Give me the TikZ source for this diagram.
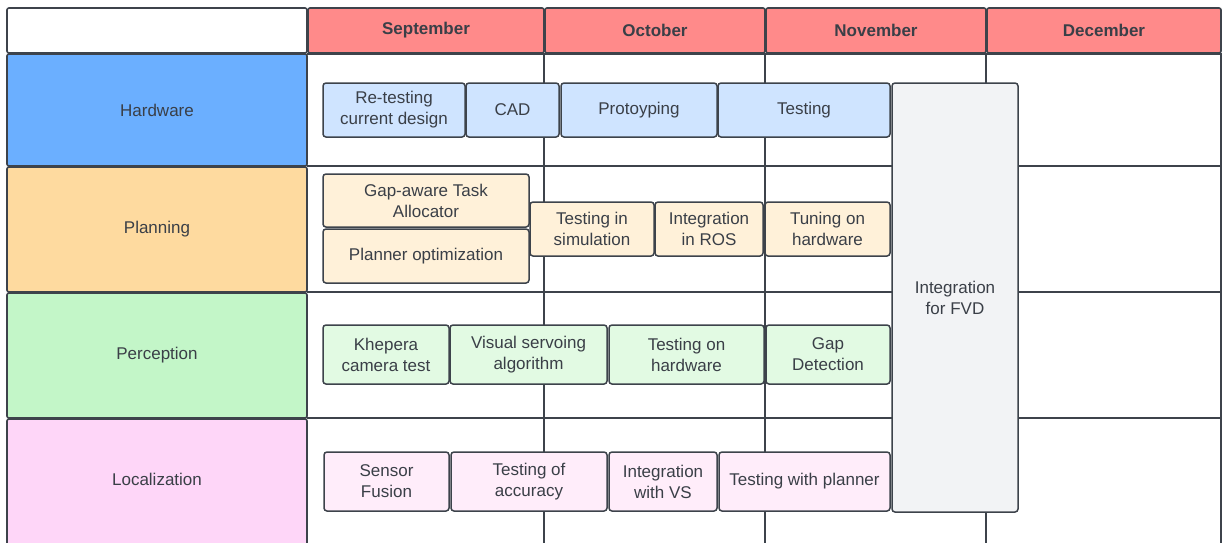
\documentclass[tikz,border=0pt]{standalone}
\usepackage{fontspec}
\setmainfont{Liberation Sans}
\usepackage{xcolor}
\usepackage{tikz}

\definecolor{linegray}{HTML}{3D434B}
\definecolor{textgray}{HTML}{3A3F47}
\definecolor{monthred}{HTML}{FF8A8A}
\definecolor{hwblue}{HTML}{6BAFFF}
\definecolor{planorange}{HTML}{FEDA9F}
\definecolor{percgreen}{HTML}{C3F6C8}
\definecolor{locpink}{HTML}{FED6F8}
\definecolor{hwtask}{HTML}{CFE4FF}
\definecolor{plantask}{HTML}{FFF1D9}
\definecolor{perctask}{HTML}{E2FAE3}
\definecolor{loctask}{HTML}{FFEDFA}
\definecolor{fvdgray}{HTML}{F2F3F5}

\begin{document}
\begin{tikzpicture}[x=1pt, y=-1pt,
    txt/.style={text=textgray, font=\fontsize{17}{21}\selectfont, align=center},
    cell/.style={txt, draw=linegray, line width=1.6pt, inner sep=0pt, rounded corners=2pt},
    month/.style={cell, fill=monthred, minimum height=45pt, font=\fontsize{17}{21}\selectfont\bfseries},
    task/.style={txt, draw=linegray, line width=1.5pt, inner sep=0pt, rounded corners=3pt}]
        \useasboundingbox (0,0) rectangle (1224,542);
        \clip (0,0) rectangle (1224,542);
        \fill[white] (0,0) rectangle (1224,542);

        % Header row
        \node[cell, fill=white, minimum width=300pt, minimum height=45pt] (corner) at (157,30.5) {};
        \node[month, minimum width=236pt] (sep) at (426,30.5) {September};
        \node[month, minimum width=220pt] (oct) at (655,30.5) {October};
        \node[month, minimum width=220pt] (nov) at (876,30.5) {November};
        \node[month, minimum width=234pt] (dec) at (1104,30.5) {December};

        % Grid of the months
        \draw[linegray, line width=1.6pt] (307,54) -- (1221,54) -- (1221,580);
        \draw[linegray, line width=1.4pt] (544,54) -- (544,580);
        \draw[linegray, line width=1.4pt] (765,54) -- (765,580);
        \draw[linegray, line width=1.4pt] (986,54) -- (986,580);
        \draw[linegray, line width=2.2pt] (307,166) -- (1221,166);
        \draw[linegray, line width=2.2pt] (307,292) -- (1221,292);
        \draw[linegray, line width=2.2pt] (307,418) -- (1221,418);

        % Row labels
        \node[cell, fill=hwblue, minimum width=300pt, minimum height=112pt] (hardware) at (157,110) {Hardware};
        \node[cell, fill=planorange, minimum width=300pt, minimum height=125pt] (planning) at (157,229.5) {Planning};
        \node[cell, fill=percgreen, minimum width=300pt, minimum height=125pt] (perception) at (157,355.5) {Perception};
        \node[cell, fill=locpink, minimum width=300pt, minimum height=160pt] (localization) at (157,499) {};
        \node[txt] (loclabel) at (157,479) {Localization};

        % Hardware tasks
        \node[task, fill=hwtask, minimum width=142pt, minimum height=54pt] (retest) at (394,110) {Re-testing\\current design};
        \node[task, fill=hwtask, minimum width=93pt, minimum height=54pt] (cad) at (512.5,110) {CAD};
        \node[task, fill=hwtask, minimum width=156pt, minimum height=54pt] (proto) at (639,110) {Protoyping};
        \node[task, fill=hwtask, minimum width=172pt, minimum height=54pt] (hwtest) at (804,110) {Testing};

        % Planning tasks
        \node[task, fill=plantask, minimum width=206pt, minimum height=53pt] (gapalloc) at (426,200.5) {Gap-aware Task\\Allocator};
        \node[task, fill=plantask, minimum width=206pt, minimum height=54pt] (planopt) at (426,256) {Planner optimization};
        \node[task, fill=plantask, minimum width=124pt, minimum height=54pt] (simtest) at (592,229) {Testing in\\simulation};
        \node[task, fill=plantask, minimum width=108pt, minimum height=54pt] (rosint) at (709,229) {Integration\\in ROS};
        \node[task, fill=plantask, minimum width=125pt, minimum height=54pt] (tuning) at (827.5,229) {Tuning on\\hardware};

        % Perception tasks
        \node[task, fill=perctask, minimum width=126pt, minimum height=59pt] (khepera) at (386,354.5) {Khepera\\camera test};
        \node[task, fill=perctask, minimum width=157pt, minimum height=59pt] (visserv) at (528.5,354.5) {Visual servoing\\algorithm};
        \node[task, fill=perctask, minimum width=155pt, minimum height=59pt] (perctest) at (686.5,354.5) {Testing on\\hardware};
        \node[task, fill=perctask, minimum width=124pt, minimum height=59pt] (gapdet) at (828,354.5) {Gap\\Detection};

        % Localization tasks
        \node[task, fill=loctask, minimum width=125pt, minimum height=59pt] (fusion) at (386.5,481.5) {Sensor\\Fusion};
        \node[task, fill=loctask, minimum width=156pt, minimum height=59pt] (accuracy) at (529,481.5) {Testing of\\accuracy};
        \node[task, fill=loctask, minimum width=108pt, minimum height=59pt] (intvs) at (663,481.5) {Integration\\with VS};
        \node[task, fill=loctask, minimum width=171pt, minimum height=59pt] (plantest) at (804.5,481.5) {Testing with planner};

        % Final integration
        \node[task, fill=fvdgray, minimum width=126pt, minimum height=429pt] (fvd) at (955,297.5) {Integration\\for FVD};
    \end{tikzpicture}
\end{document}
